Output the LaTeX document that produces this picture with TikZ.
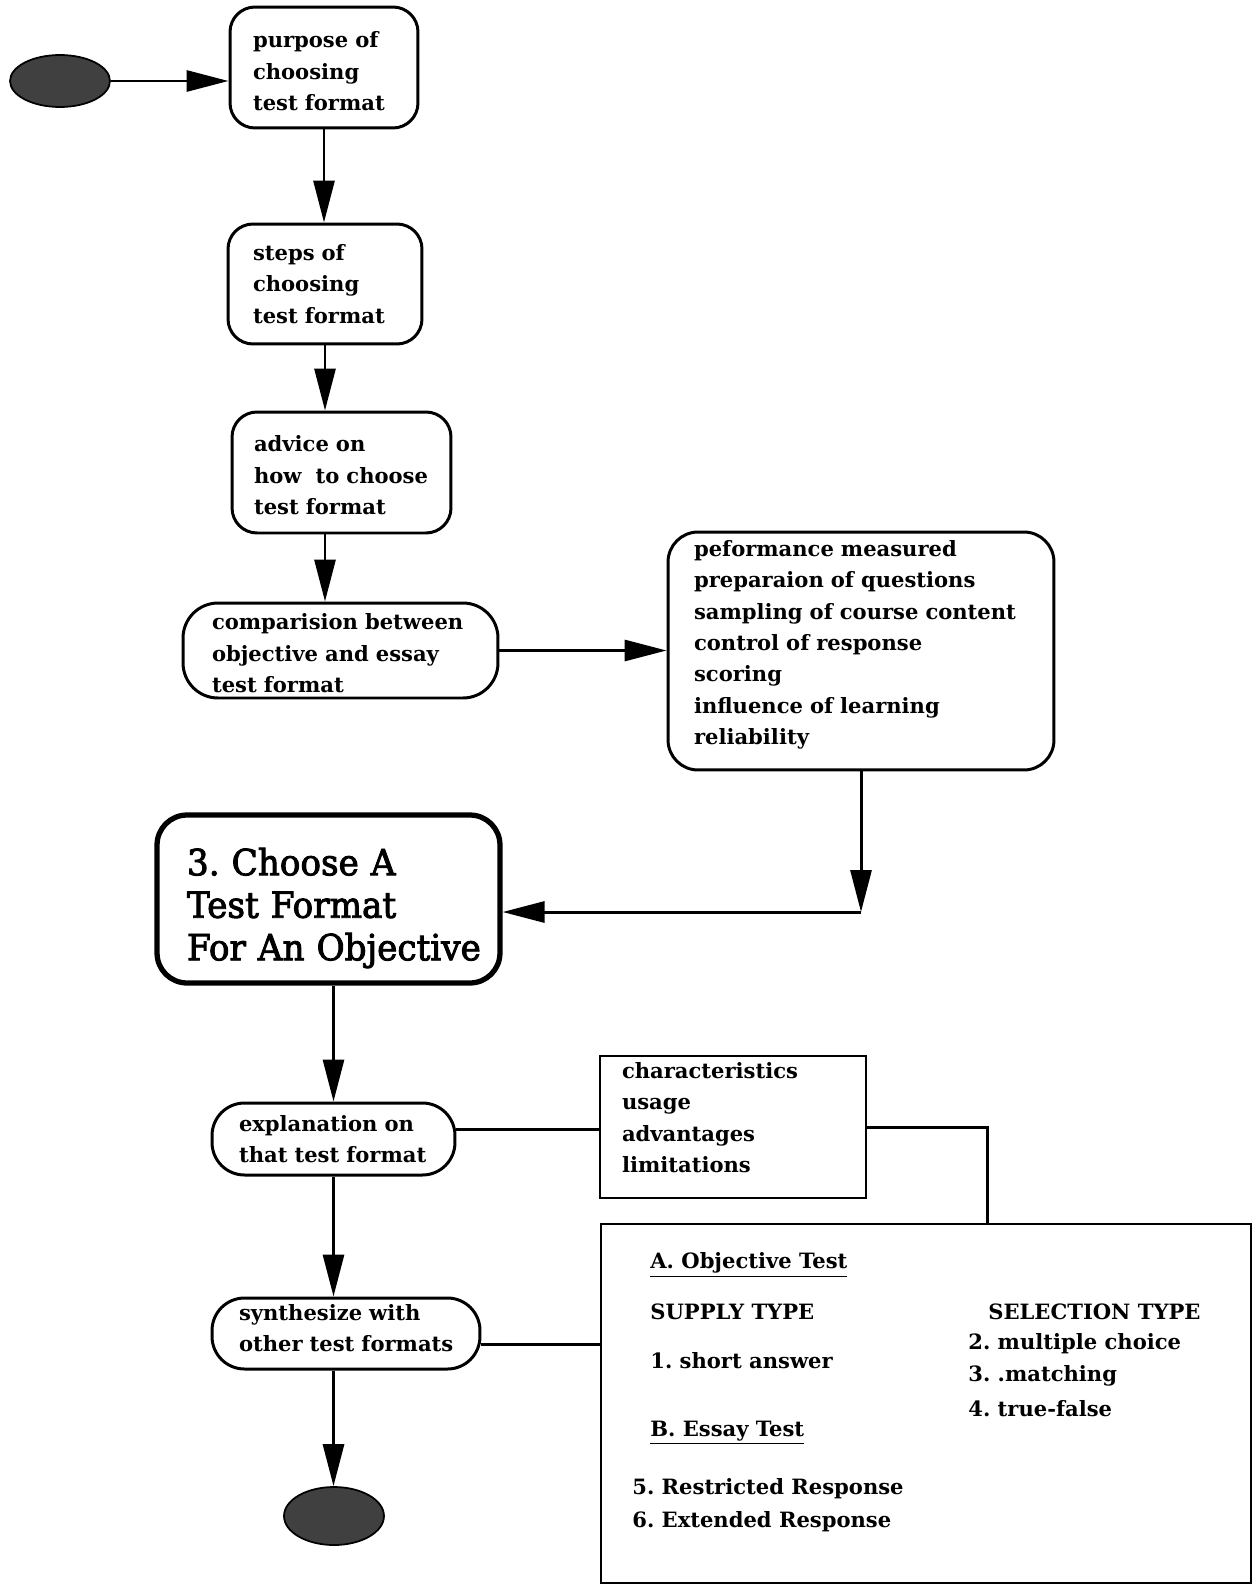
\documentclass[tikz,border=0pt]{standalone}
\usepackage{fontspec}
\setmainfont{DejaVu Serif}
\newfontfamily\titlefont{DejaVu Serif}[FakeStretch=0.95,FakeBold=2.5]
\usetikzlibrary{arrows.meta,shapes.geometric}
\frenchspacing
% extra room above the first line / below the last line of a box text
\newcommand\padtop[1]{\rule{0pt}{\dimexpr0.76em+#1\relax}}
\newcommand\padbot[1]{\rule[-\dimexpr0.24em+#1\relax]{0pt}{0pt}}

\begin{document}
\begin{tikzpicture}[x=0.02cm,y=-0.02cm,
  conn/.style={line width=1.7pt},
  arr/.style={conn,-{Triangle[length=0.84cm,width=0.42cm]}},
  txt/.style={font=\bfseries\fontsize{12}{17.9}\selectfont},
  stepbox/.style={draw,line width=1.7pt,rounded corners=0.5cm,inner sep=0pt,align=left,txt},
  listbox/.style={draw,line width=1.3pt,inner sep=0pt,align=left,txt},
  item/.style={anchor=west,inner sep=0pt,txt},
  terminal/.style={ellipse,draw,line width=1pt,fill=black!75,minimum width=2cm,inner sep=0pt}
]
\useasboundingbox (0,0) rectangle (1257,1585);

% start and end
\node[terminal,minimum height=1.04cm] (start) at (60,81) {};
\node[terminal,minimum height=1.16cm] (stop) at (334,1516) {};

% main sequence
\node[stepbox,minimum width=3.76cm,minimum height=2.42cm,text width=2.84cm] (purpose) at (324,67.5)
  {\padtop{4.6pt}purpose of\\choosing\\test format};
\node[stepbox,minimum width=3.88cm,minimum height=2.4cm,text width=2.88cm] (steps) at (325,284)
  {steps of\\choosing\\test format};
\node[stepbox,minimum width=4.38cm,minimum height=2.42cm,text width=3.5cm] (advice) at (341.5,472.5)
  {\padtop{3.4pt}advice on\\\mbox{how~ to choose}\\test format};
\node[stepbox,rounded corners=0.7cm,minimum width=6.3cm,minimum height=1.9cm,text width=5.14cm] (compare) at (340.5,650.5)
  {\padtop{3.4pt}\mbox{comparision between}\\\mbox{objective and essay}\\test format};
\node[stepbox,rounded corners=0.6cm,minimum width=7.72cm,minimum height=4.76cm,text width=6.68cm] (perf) at (861,651)
  {peformance measured\\preparaion of questions\\\mbox{sampling of course content}\\control of response\\scoring\\influence of learning\\reliability\padbot{6.8pt}};
\node[stepbox,line width=3pt,rounded corners=0.6cm,minimum width=6.86cm,minimum height=3.36cm,text width=5.66cm,
  font=\titlefont\fontsize{20.5}{24.2}\selectfont] (choose) at (328.5,899)
  {\padtop{10.3pt}3. Choose A\\\mbox{Test Format}\\\mbox{For An Objective}};
\node[stepbox,rounded corners=0.65cm,minimum width=4.86cm,minimum height=1.44cm,text width=3.78cm] (explain) at (333.5,1139)
  {\mbox{explanation on}\\\mbox{that test format}};
\node[listbox,minimum width=5.32cm,minimum height=2.84cm,text width=4.44cm] (aspects) at (733,1127)
  {characteristics\\usage\\advantages\\limitations\padbot{8pt}};
\node[stepbox,rounded corners=0.65cm,minimum width=5.36cm,minimum height=1.42cm,text width=4.28cm] (synth) at (346,1333.5)
  {\mbox{synthesize with}\\\mbox{other test formats}\padbot{3.4pt}};
\node[listbox,minimum width=13cm,minimum height=7.18cm] (types) at (926,1403.5) {};

% contents of the test-type panel
\node[item] (objA) at (650,1265) {\underline{A. Objective Test}};
\node[item] (supply) at (650,1312) {SUPPLY TYPE};
\node[item] (select) at (988,1312) {SELECTION TYPE};
\node[item] (t1) at (650,1361) {1. short answer};
\node[item] (t2) at (968,1344) {2. multiple choice};
\node[item] (t3) at (968,1376) {3. .matching};
\node[item] (t4) at (968,1409) {4. true-false};
\node[item] (essB) at (650,1433) {\underline{B. Essay Test}};
\node[item] (t5) at (632,1489) {5. Restricted Response};
\node[item] (t6) at (632,1522) {6. Extended Response};

% helper coordinates for the bends
\coordinate (ly) at (0,912);
\coordinate (ey) at (0,1129);
\coordinate (sy) at (0,1344);
\coordinate (cx) at (987,0);
\coordinate (bend) at (perf.south |- ly);

% connectors
\draw[arr] (start.east) -- (start.east -| purpose.west);
\draw[arr] (purpose.south) -- (purpose.south |- steps.north);
\draw[arr] (steps.south) -- (steps.south |- advice.north);
\draw[arr] (steps.south |- advice.south) -- (steps.south |- compare.north);
\draw[arr] (compare.east) -- (compare.east -| perf.west);
\draw[arr] (perf.south) -- (bend);
\draw[arr] (bend) -- (bend -| choose.east);
\draw[arr] (choose.south -| explain.north) -- (explain.north);
\draw[conn] (explain.east |- ey) -- (aspects.west |- ey);
\draw[conn] (aspects.east) -- (aspects.east -| cx) -- (cx |- types.north);
\draw[arr] (explain.south) -- (explain.south |- synth.north);
\draw[conn] (synth.east |- sy) -- (types.west |- sy);
\draw[arr] (explain.south |- synth.south) -- (explain.south |- stop.north);
\end{tikzpicture}
\end{document}
